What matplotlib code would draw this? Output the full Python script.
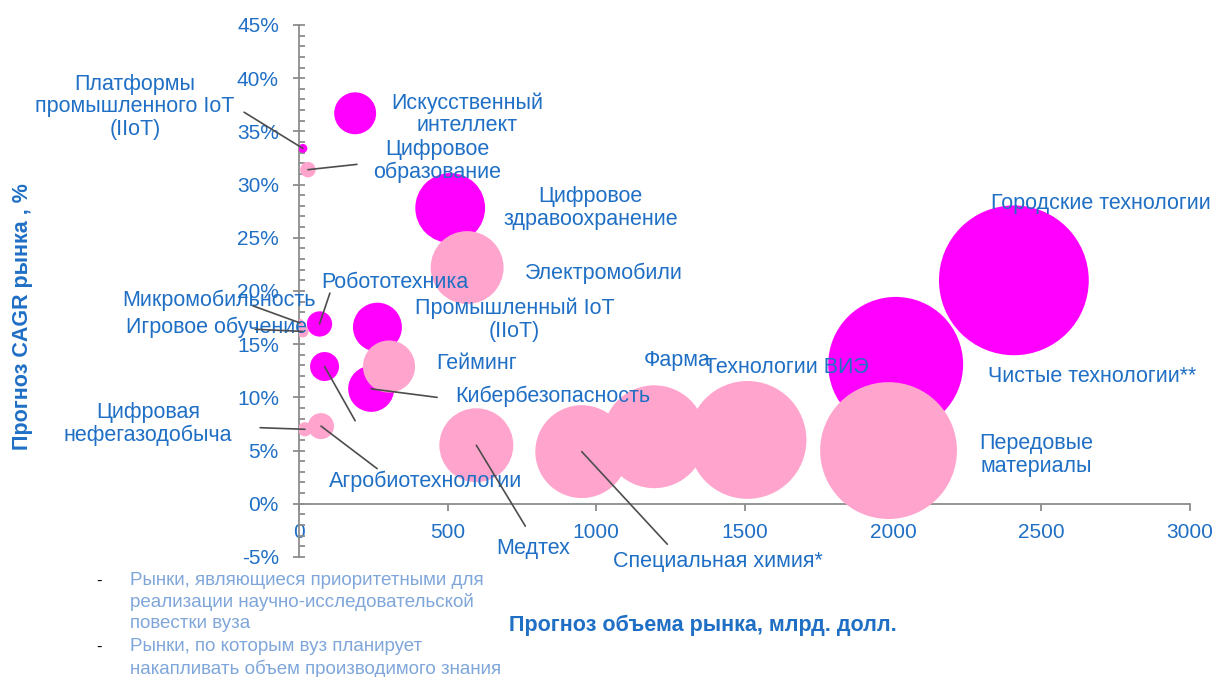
import matplotlib
matplotlib.use("Agg")
import matplotlib.pyplot as plt
import matplotlib.ticker as mticker

plt.rcParams['font.family'] = ['Liberation Sans', 'DejaVu Sans']

# priority markets (magenta)
prio_names = ['Платформы\nпромышленного IoT\n(IIoT)', 'Искусственный\nинтеллект',
              'Цифровое\nздравоохранение', 'Робототехника', 'Промышленный IoT\n(IIoT)',
              '', 'Кибербезопасность', 'Чистые технологии**', 'Городские технологии']
prio_volume = [13, 189, 509, 69, 264, 86, 243, 2009, 2407]
prio_cagr = [33.4, 36.7, 27.8, 16.9, 16.6, 12.9, 10.8, 13.1, 21.0]
prio_bubble = [2, 44, 122, 16, 60, 21, 53, 456, 562]

# markets to accumulate knowledge (pink)
acc_names = ['Цифровое\nобразование', 'Микромобильность', 'Игровое обучение',
             'Цифровая\nнефегазодобыча', 'Агробиотехнологии', 'Гейминг', 'Электромобили',
             'Медтех', 'Специальная химия*', 'Фарма', 'Технологии ВИЭ',
             'Передовые\nматериалы']
acc_volume = [30, 3, 12, 20, 74, 303, 566, 597, 952, 1196, 1510, 1985]
acc_cagr = [31.4, 17.0, 16.2, 7.0, 7.3, 12.9, 22.2, 5.5, 4.9, 6.3, 6.0, 5.0]
acc_bubble = [6, 1.6, 3.6, 5, 17, 68, 133, 137, 216, 265, 348, 469]

legend_notes = ['Рынки, являющиеся приоритетными для\nреализации научно-исследовательской\nповестки вуза',
                'Рынки, по которым вуз планирует\nнакапливать объем производимого знания']

BLUE = '#1F6FC5'
MAGENTA = '#FF00FF'
PINK = '#FFA5CD'
GREY = '#8C8C8C'
SCALE = 20.7

fig = plt.figure(figsize=(12.23, 6.77), dpi=100)
ax = fig.add_axes([0.2445, 0.1773, 0.7285, 0.7858])

ax.scatter(prio_volume, prio_cagr, s=[b * SCALE for b in prio_bubble],
           color=MAGENTA, edgecolors='none', zorder=3)
order = sorted(range(len(acc_volume)), key=lambda i: acc_volume[i])
ax.scatter([acc_volume[i] for i in order], [acc_cagr[i] for i in order],
           s=[acc_bubble[i] * SCALE for i in order],
           color=PINK, edgecolors='none', zorder=4)

ax.set_xlim(0, 3000)
ax.set_ylim(-5, 45)
ax.xaxis.set_major_locator(mticker.MultipleLocator(500))
ax.yaxis.set_major_locator(mticker.MultipleLocator(5))
ax.yaxis.set_minor_locator(mticker.MultipleLocator(1))
ax.yaxis.set_major_formatter(mticker.FuncFormatter(lambda v, p: f'{v:.0f}%'))

for s in ['top', 'right']:
    ax.spines[s].set_visible(False)
ax.spines['bottom'].set_position(('data', 0))
for s in ['bottom', 'left']:
    ax.spines[s].set_color(GREY)
    ax.spines[s].set_linewidth(1.3)

ax.tick_params(axis='x', direction='out', length=5, width=1.3, color=GREY,
               labelsize=15, labelcolor=BLUE, pad=9)
ax.tick_params(axis='y', which='major', direction='inout', length=9, width=1.3,
               color=GREY, labelsize=15, labelcolor=BLUE, pad=10)
ax.tick_params(axis='y', which='minor', direction='in', length=4, width=1.3, color=GREY)
ax.set_facecolor('none')

# labels: centre of each text block, data units
label_pos = {
    'Платформы\nпромышленного IoT\n(IIoT)': (-553, 37.3),
    'Искусственный\nинтеллект': (566, 36.6),
    'Цифровое\nобразование': (465, 32.2),
    'Цифровое\nздравоохранение': (981, 27.8),
    'Электромобили': (1025, 21.7),
    'Городские технологии': (2700, 28.2),
    'Робототехника': (324, 20.8),
    'Микромобильность': (-270, 19.1),
    'Игровое обучение': (-276, 16.6),
    'Промышленный IoT\n(IIoT)': (725, 17.3),
    'Гейминг': (597, 13.2),
    'Кибербезопасность': (856, 10.1),
    'Цифровая\nнефегазодобыча': (-509, 7.5),
    'Агробиотехнологии': (425, 2.1),
    'Медтех': (789, -4.2),
    'Специальная химия*': (1412, -5.4),
    'Фарма': (1274, 13.5),
    'Технологии ВИЭ': (1641, 12.8),
    'Чистые технологии**': (2669, 12.0),
    'Передовые\nматериалы': (2481, 4.6),
}
for name, (lx, ly) in label_pos.items():
    ax.text(lx, ly, name, color=BLUE, fontsize=15.5, ha='center', va='center',
            linespacing=1.1, zorder=6, clip_on=False)

# leader lines: start point -> bubble
leaders = [
    (prio_volume[0], prio_cagr[0], -185, 36.8),
    (acc_volume[0], acc_cagr[0], 195, 31.9),
    (prio_volume[3], prio_cagr[3], 104, 19.8),
    (acc_volume[1], acc_cagr[1], -155, 18.6),
    (acc_volume[2], acc_cagr[2], -148, 16.4),
    (prio_volume[6], prio_cagr[6], 465, 10.0),
    (acc_volume[3], acc_cagr[3], -131, 7.15),
    (acc_volume[4], acc_cagr[4], 263, 3.3),
    (prio_volume[5], prio_cagr[5], 189, 7.8),
    (acc_volume[7], acc_cagr[7], 762, -2.1),
    (acc_volume[8], acc_cagr[8], 1240, -3.8),
]
for bx, by, sx, sy in leaders:
    ax.annotate('', xy=(bx, by), xytext=(sx, sy), annotation_clip=False,
                arrowprops=dict(arrowstyle='-', color='#4D4D4D', lw=1.2,
                                shrinkA=0, shrinkB=0), zorder=7)

fig.text(0.018, 0.533, 'Прогноз CAGR рынка , %', rotation=90, color=BLUE,
         fontsize=15.5, fontweight='bold', ha='center', va='center')
fig.text(0.575, 0.077, 'Прогноз объема рынка, млрд. долл.', color=BLUE,
         fontsize=15.5, fontweight='bold', ha='center', va='center')

note_y = [1 - 572 / 677, 1 - 638 / 677]
dash_y = [1 - 581 / 677, 1 - 647 / 677]
for note, ny, dy in zip(legend_notes, note_y, dash_y):
    fig.text(0.079, dy, '-', color='black', fontsize=12, ha='left', va='center')
    fig.text(0.106, ny, note, color='#7FA6DA', fontsize=13.5, ha='left', va='top',
             linespacing=1.3)

fig.savefig('out.png', dpi=100)
